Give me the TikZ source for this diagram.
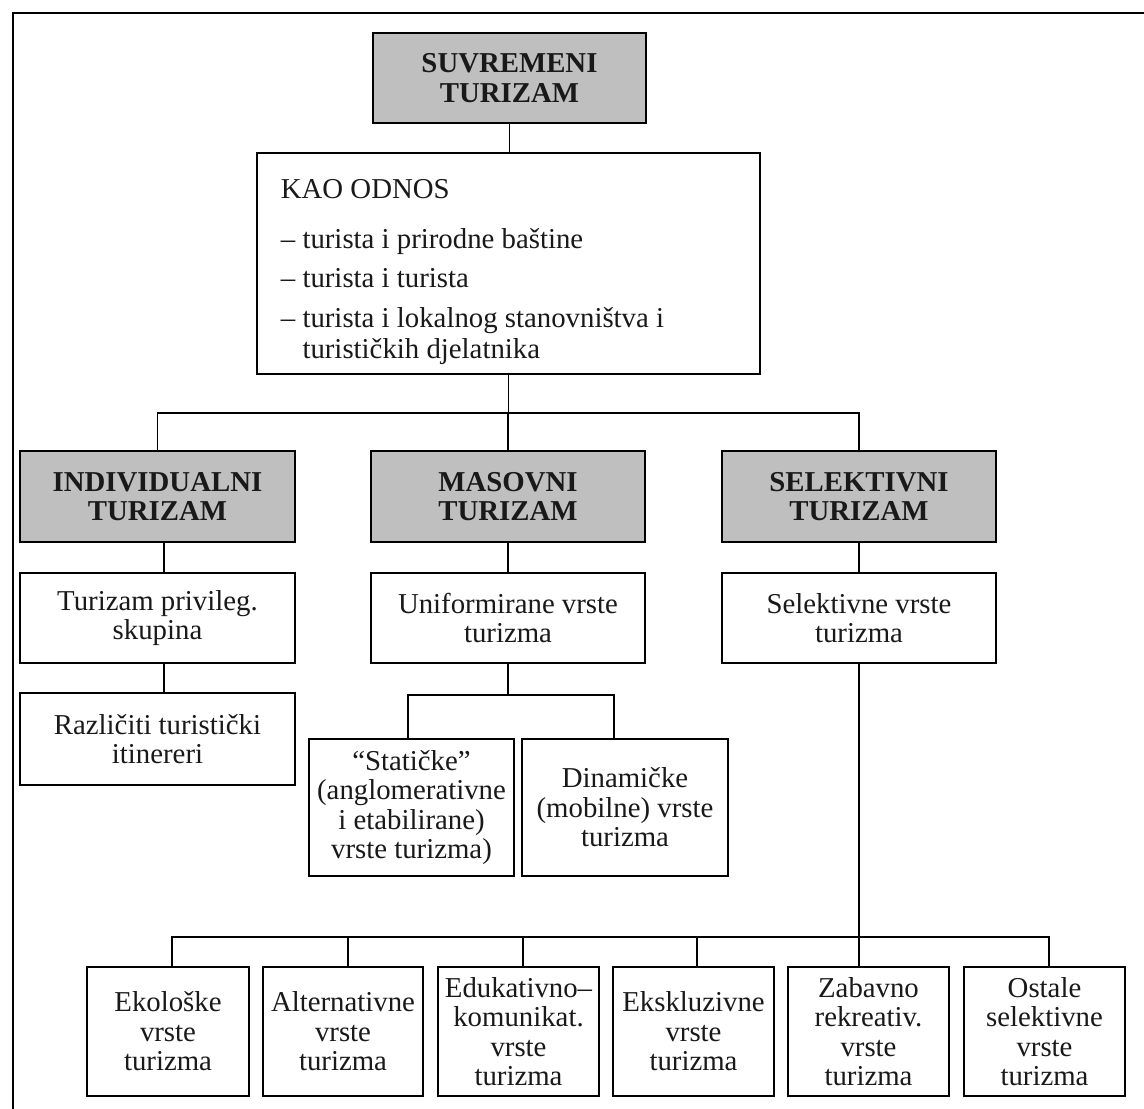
\documentclass[tikz,border=0pt]{standalone}
\usepackage{fontspec}
\setmainfont{Liberation Serif}
\begin{document}
\begin{tikzpicture}[x=1pt,y=-1pt, line width=1.8pt,
  txt/.style={font=\fontsize{28.8}{29.5}\selectfont, text=black!90},
  box/.style={txt, draw, line width=2pt, inner sep=1pt, align=center},
  hbox/.style={box, fill=black!25, font=\fontsize{28.8}{29.5}\selectfont\bfseries},
  kline/.style={txt, anchor=base west, inner sep=0pt}
]
\useasboundingbox (0,0) rectangle (1144,1109);
\fill[white] (0,0) rectangle (1144,1109);
% outer frame
\coordinate (fbl) at (13,1109);
\coordinate (ftl) at (13,13);
\coordinate (ftr) at (1144,13);
\draw[line width=2pt] (fbl) -- (ftl) -- (ftr);

% top
\node[hbox, minimum width=273pt, minimum height=90pt] (suv) at (509.5,78) {SUVREMENI\\TURIZAM};
\node[box, minimum width=503pt, minimum height=221pt] (kao) at (508.5,263.5) {};
\node[kline] (k1) at (280,198) {KAO ODNOS};
\node[kline] (k2) at (280,248) {– turista i prirodne baštine};
\node[kline] (k3) at (280,287) {– turista i turista};
\node[kline] (k4) at (280,327) {– turista i lokalnog stanovništva i};
\node[kline] (k5) at (280,358) {\hphantom{– }turističkih djelatnika};

% level 3
\node[hbox, minimum width=275pt, minimum height=91pt] (ind) at (157.5,496.5) {INDIVIDUALNI\\TURIZAM};
\node[hbox, minimum width=274pt, minimum height=91pt] (mas) at (508,496.5) {MASOVNI\\TURIZAM};
\node[hbox, minimum width=274pt, minimum height=91pt] (sel) at (859,496.5) {SELEKTIVNI\\TURIZAM};

% level 4
\node[box, minimum width=275pt, minimum height=90pt] (tp) at (157.5,618) {Turizam privileg.\\skupina};
\node[box, minimum width=274pt, minimum height=90pt] (uni) at (508,618) {Uniformirane vrste\\turizma};
\node[box, minimum width=274pt, minimum height=90pt] (sv) at (859,618) {Selektivne vrste\\turizma};

% level 5
\node[box, minimum width=275pt, minimum height=92pt] (raz) at (157.5,739) {Različiti turistički\\itinereri};
\node[box, minimum width=205pt, minimum height=137pt] (sta) at (411.5,807.5) {“Statičke”\\(anglomerativne\\i etabilirane)\\vrste turizma)};
\node[box, minimum width=206pt, minimum height=137pt] (din) at (625,807.5) {Dinamičke\\(mobilne) vrste\\turizma};

% bottom row
\node[box, minimum width=162pt, minimum height=129pt] (ek) at (168,1031.5) {Ekološke\\vrste\\turizma};
\node[box, minimum width=160pt, minimum height=129pt] (alt) at (343,1031.5) {Alternativne\\vrste\\turizma};
\node[box, minimum width=161pt, minimum height=129pt] (edu) at (518.5,1031.5) {Edukativno–\\komunikat.\\vrste\\turizma};
\node[box, minimum width=161pt, minimum height=129pt] (eks) at (693.5,1031.5) {Ekskluzivne\\vrste\\turizma};
\node[box, minimum width=161pt, minimum height=129pt] (zab) at (868.5,1031.5) {Zabavno\\rekreativ.\\vrste\\turizma};
\node[box, minimum width=161pt, minimum height=129pt] (ost) at (1044.5,1031.5) {Ostale\\selektivne\\vrste\\turizma};

% connectors
\coordinate (j1) at (508,413);
\coordinate (j2) at (508,695);
\coordinate (j3) at (859,937);
\draw (suv.south) -- (suv.south |- kao.north);
\draw (kao.south) -- (kao.south |- j1);
\draw (ind.north) -- (ind.north |- j1) -- (sel.north |- j1) -- (sel.north);
\draw (mas.north |- j1) -- (mas.north);
\draw ([xshift=6.5pt]ind.south) -- ([xshift=6.5pt]tp.north);
\draw ([xshift=6.5pt]tp.south) -- ([xshift=6.5pt]raz.north);
\draw (mas.south) -- (uni.north);
\draw (sel.south) -- (sv.north);
\draw (uni.south) -- (uni.south |- j2);
\draw ([xshift=-3.5pt]sta.north) |- ([xshift=-11pt]din.north |- j2) -- ([xshift=-11pt]din.north);
\draw (sv.south) -- (sv.south |- zab.north);
\draw ([xshift=4pt]ek.north) |- ([xshift=4.5pt]ost.north |- j3) -- ([xshift=4.5pt]ost.north);
\draw ([xshift=5pt]alt.north) -- ([xshift=5pt]alt.north |- j3);
\draw ([xshift=4.5pt]edu.north) -- ([xshift=4.5pt]edu.north |- j3);
\draw ([xshift=3.5pt]eks.north) -- ([xshift=3.5pt]eks.north |- j3);
\end{tikzpicture}
\end{document}
